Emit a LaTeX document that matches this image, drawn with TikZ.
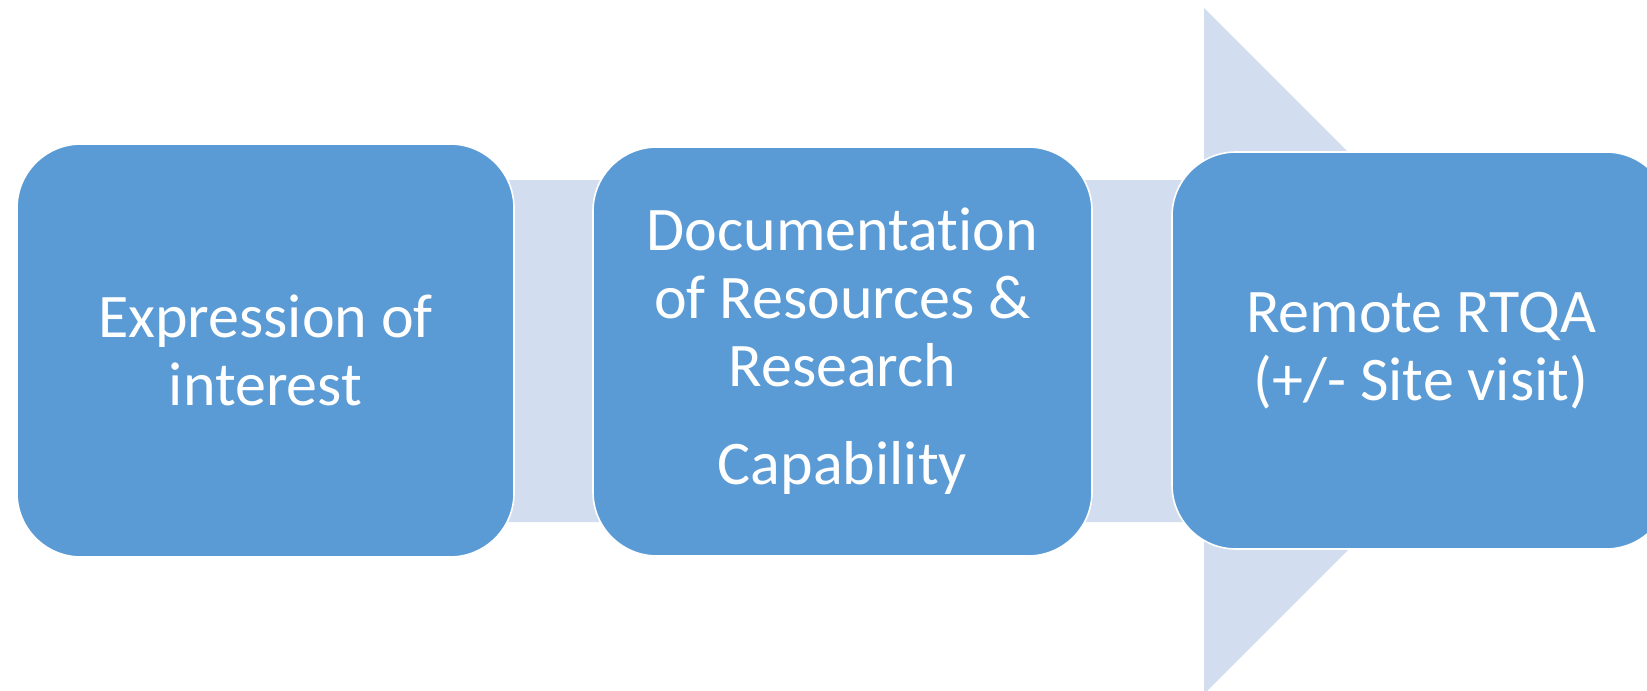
\documentclass[tikz,border=0pt]{standalone}
\usepackage{fontspec}
\setmainfont{Carlito}[Ligatures=NoCommon]
\definecolor{stepblue}{HTML}{5B9BD5}
\definecolor{arrowtint}{HTML}{D2DEEF}
\tikzset{
  stepbox/.style={rectangle, rounded corners=32pt, fill=stepblue, draw=white,
    line width=0.8pt, text=white, align=center, inner sep=0pt, outer sep=0pt,
    font=\fontsize{31}{34}\selectfont},
}
\begin{document}
\begin{tikzpicture}[x=0.5pt, y=-0.5pt]
\def\ymid{351};
\def\ytop{180};
\def\ybot{522};
\def\xhead{1204};
\def\xtip{1547};

\useasboundingbox (0,0) rectangle (1647,690);

% big arrow behind the steps
\fill[arrowtint] (265,\ytop) -- (\xhead,\ytop) -- (\xhead,8) -- (\xtip,\ymid)
  -- (\xhead,694) -- (\xhead,\ybot) -- (265,\ybot) -- cycle;

\node[stepbox, minimum width=248.5pt, minimum height=206.5pt] (expr) at (265.5,350.5) {Expression of\\interest};
\node[stepbox, minimum width=249.5pt, minimum height=204.5pt] (docs) at (842.5,351.5) {Documentation\\of Resources \&\\Research\\[15pt]Capability};
\node[stepbox, minimum width=249pt, minimum height=198.5pt] (rtqa) at (1421,350.5) {Remote RTQA\\(+/- Site visit)};

\end{tikzpicture}
\end{document}
